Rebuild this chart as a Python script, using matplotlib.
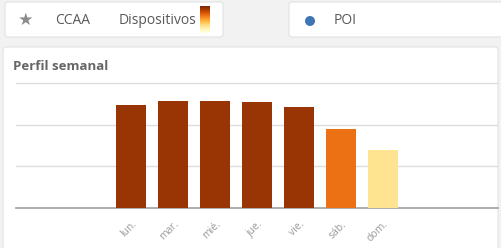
import matplotlib
matplotlib.use("Agg")
import matplotlib.pyplot as plt
import numpy as np
from matplotlib.patches import FancyBboxPatch, Circle

days = ["lun.", "mar.", "mié.", "jue.", "vie.", "sáb.", "dom."]
values = [2.47, 2.58, 2.58, 2.55, 2.43, 1.89, 1.40]
bar_colors = ["#993404", "#993404", "#993404", "#993404", "#993404", "#ec7014", "#fee391"]

W, H = 501, 248
plt.rcParams['font.family'] = ['Open Sans', 'DejaVu Sans']
fig = plt.figure(figsize=(W / 100, H / 100), dpi=100)
fig.patch.set_facecolor("#f2f2f2")

def fx(x):
    return x / W

def fy(y):
    return 1 - y / H

# background layer in pixel coordinates
bg = fig.add_axes([0, 0, 1, 1], zorder=-10)
bg.set_xlim(0, W)
bg.set_ylim(H, 0)
bg.axis("off")

def box(x0, y0, x1, y1):
    bg.add_patch(FancyBboxPatch((x0, y0), x1 - x0, y1 - y0,
                                boxstyle="round,pad=0,rounding_size=3",
                                facecolor="white", edgecolor="#e2e2e2", linewidth=0.8))

box(5, 2, 223, 37)
box(289, 2, 506, 37)
box(3, 47, 498, 254)

txt_col = "#595959"
bg.text(26, 20, "★", fontsize=12.5, color="#8c8c8c", ha="center", va="center",
        family=["DejaVu Sans"])
bg.text(55, 21, "CCAA", fontsize=10, color=txt_col, ha="left", va="center")
bg.text(119, 21, "Dispositivos", fontsize=10, color=txt_col, ha="left", va="center")
bg.add_patch(Circle((310, 21), 5, facecolor="#3d76b3", edgecolor="none"))
bg.text(334, 21, "POI", fontsize=10, color=txt_col, ha="left", va="center")
bg.text(13, 70, "Perfil semanal", fontsize=9.5, fontweight="bold",
        color="#666666", ha="left", va="baseline")

# gradient legend bar
gax = fig.add_axes([fx(200), fy(33), fx(210) - fx(200), fy(6) - fy(33)])
grad = np.linspace(0, 1, 100).reshape(-1, 1)
gax.imshow(grad, aspect="auto", cmap="YlOrBr_r", vmin=-0.05, vmax=1.0)
gax.axis("off")

# main axes
unit = (207.7 - 83.3) / 3
ytop = 3.3
ax_top = 207.7 - ytop * unit
ax = fig.add_axes([fx(16), fy(207.7), fx(498) - fx(16), fy(ax_top) - fy(207.7)])
ax.set_facecolor("none")
x = np.arange(len(days))
ax.bar(x, values, width=0.7, color=bar_colors, zorder=3)
ax.set_xlim(-2.74, len(days) - 1 + 2.74)
ax.set_ylim(0, ytop)
ax.set_yticks([1, 2, 3])
ax.yaxis.grid(True, color="#dddddd", linewidth=1)
ax.tick_params(axis="y", left=False, labelleft=False)
for s in ["top", "right", "left"]:
    ax.spines[s].set_visible(False)
ax.spines["bottom"].set_color("#a0a0a0")
ax.spines["bottom"].set_linewidth(1.2)
ax.set_xticks(x)
ax.set_xticklabels(days, rotation=45, ha="right", rotation_mode="anchor",
                   fontsize=7.5, color="#9a9a9a")
ax.tick_params(axis="x", length=0, pad=8)

fig.savefig("out.png", dpi=100, facecolor=fig.get_facecolor())
